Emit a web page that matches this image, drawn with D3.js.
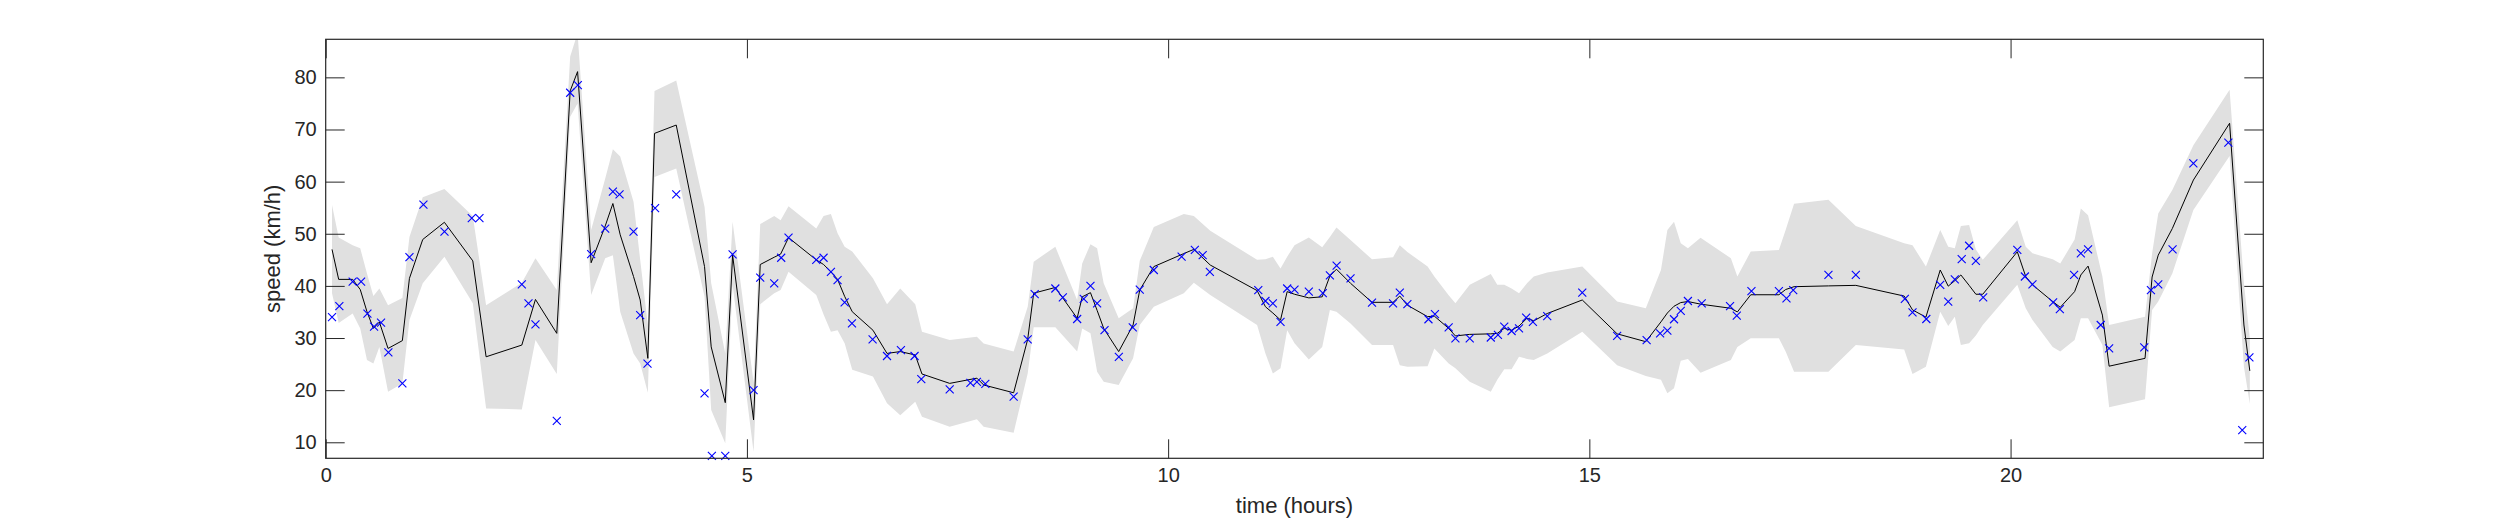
<!DOCTYPE html>
<html lang="en">
<head>
    <meta charset="UTF-8">
    <script src="https://d3js.org/d3.v7.min.js"></script>
    <title>speed over time</title>
    <style>
      body { margin: 0; background: #fff; }
      text { font-family: "Liberation Sans", Arial, Helvetica, sans-serif; fill: #262626; }
    </style>
</head>
<body>
<script>
    // predicted mean + band (same time grid)
    var tLine = [0.075, 0.154, 0.32, 0.41, 0.49, 0.566, 0.637, 0.74, 0.91, 0.994, 1.152, 1.409, 1.746, 1.904, 2.328, 2.49, 2.743, 2.902, 2.99, 3.151,
        3.318, 3.409, 3.496, 3.654, 3.733, 3.824, 3.903, 4.161, 4.497, 4.576, 4.743, 4.83, 5.079, 5.158, 5.324, 5.4, 5.494, 5.823, 5.91, 5.997,
        6.076, 6.16, 6.25, 6.496, 6.663, 6.82, 6.998, 7.078, 7.407, 7.73, 7.81, 8.166, 8.333, 8.404, 8.661, 8.92, 8.98, 9.078, 9.157, 9.235,
        9.413, 9.584, 9.663, 9.83, 10.186, 10.305, 10.5, 11.056, 11.155, 11.243, 11.334, 11.413, 11.5, 11.67, 11.829, 11.92, 11.998, 12.165, 12.42, 12.67,
        12.75, 12.84, 13.08, 13.16, 13.33, 13.41, 13.58, 13.83, 13.907, 13.99, 14.077, 14.165, 14.26, 14.34, 14.5, 14.916, 15.33, 15.67, 15.85, 15.926,
        16.005, 16.085, 16.17, 16.32, 16.68, 16.757, 16.916, 17.25, 17.33, 17.43, 17.838, 18.163, 18.737, 18.836, 18.995, 19.165, 19.26, 19.338, 19.41, 19.508,
        19.588, 19.67, 20.08, 20.18, 20.26, 20.5, 20.59, 20.76, 20.834, 20.92, 21.09, 21.17, 21.596, 21.68, 21.753, 21.92, 22.17, 22.6, 22.77, 22.84]
    var speedMean = [47.0, 41.25, 41.25, 39.3, 35.05, 31.85, 33.07, 28.0, 29.5, 41.45, 48.9, 52.2, 44.8, 26.4, 28.65, 37.4, 30.9, 77.4, 81.1, 44.45,
        51.5, 55.8, 49.8, 41.8, 37.3, 26.1, 69.25, 70.85, 43.7, 28.3, 17.6, 45.9, 14.3, 44.1, 45.5, 46.1, 49.25, 45.0, 44.1, 42.7,
        41.25, 38.0, 35.05, 31.5, 27.05, 27.4, 26.75, 23.1, 21.3, 22.3, 21.0, 19.5, 29.75, 38.6, 39.7, 33.8, 37.9, 38.7, 35.3, 31.85,
        27.4, 32.5, 39.2, 43.7, 46.2, 47.0, 44.0, 39.1, 36.0, 34.8, 33.45, 38.9, 38.4, 37.7, 37.9, 41.9, 43.2, 40.5, 36.85, 36.85,
        38.05, 36.3, 34.1, 34.2, 31.85, 30.4, 30.7, 30.8, 30.9, 31.85, 31.5, 32.3, 33.8, 33.3, 34.7, 37.3, 30.8, 29.3, 33.1, 34.8,
        36.1, 36.8, 37.0, 36.5, 35.7, 35.0, 38.3, 38.3, 39.3, 39.85, 40.0, 40.1, 38.05, 35.4, 34.0, 43.05, 39.95, 41.0, 42.1, 40.1,
        38.4, 38.4, 46.55, 41.8, 40.2, 37.0, 35.9, 38.9, 42.1, 43.8, 34.4, 24.6, 26.1, 41.7, 45.9, 51.0, 60.3, 71.2, 32.5, 23.7]
    var speedLo = [38.6, 32.9, 34.7, 31.85, 25.8, 25.1, 28.3, 19.7, 21.3, 33.45, 40.5, 45.6, 36.65, 16.5, 16.3, 29.6, 23.1, 72.45, 75.0, 38.25,
        45.3, 45.9, 35.05, 27.05, 25.1, 19.5, 60.9, 62.5, 37.9, 16.2, 9.8, 40.2, 8.2, 36.5, 38.6, 39.2, 42.7, 38.25, 34.5, 31.2,
        31.5, 29.0, 23.9, 22.6, 17.5, 15.2, 17.8, 14.9, 13.0, 14.4, 13.0, 11.85, 23.2, 32.05, 32.05, 27.4, 31.85, 30.9, 23.55, 21.6,
        21.0, 26.1, 32.5, 36.0, 38.6, 40.6, 38.25, 32.5, 27.05, 23.2, 24.2, 31.5, 29.0, 25.9, 28.3, 35.4, 35.05, 32.8, 28.65, 28.65,
        24.8, 24.5, 24.6, 28.0, 25.1, 24.2, 21.6, 19.7, 22.0, 24.0, 24.0, 26.4, 26.0, 25.8, 27.05, 31.2, 24.8, 22.7, 22.0, 19.4,
        20.35, 25.65, 26.0, 23.35, 25.8, 28.3, 29.95, 29.95, 27.4, 23.55, 23.55, 28.65, 27.8, 23.1, 24.5, 35.05, 32.3, 34.1, 28.65, 29.0,
        30.5, 32.5, 40.2, 35.7, 33.45, 28.3, 27.4, 29.6, 33.8, 33.8, 28.65, 16.7, 18.25, 35.4, 37.0, 42.4, 54.55, 64.9, 24.5, 17.35]
    var speedHi = [55.5, 49.3, 47.8, 47.2, 42.4, 38.05, 39.5, 36.3, 37.7, 49.4, 57.0, 58.6, 53.4, 36.3, 40.6, 45.3, 39.2, 84.0, 88.5, 50.7,
        60.6, 66.2, 64.8, 56.15, 45.0, 32.5, 77.4, 79.4, 55.2, 40.5, 27.05, 52.3, 21.5, 51.85, 53.4, 52.6, 55.3, 51.0, 53.4, 53.8,
        50.1, 47.5, 46.6, 41.45, 36.5, 39.5, 36.5, 31.2, 29.6, 30.25, 28.95, 27.4, 36.0, 44.65, 47.5, 37.3, 44.3, 48.0, 47.2, 40.5,
        33.8, 35.7, 44.8, 51.3, 53.8, 53.4, 50.6, 45.0, 45.1, 45.6, 43.35, 45.6, 47.8, 49.3, 47.4, 49.4, 51.2, 48.8, 45.1, 45.5,
        47.8, 46.5, 43.7, 41.8, 38.2, 36.65, 40.2, 42.3, 40.2, 40.2, 39.5, 38.6, 40.5, 41.8, 42.55, 43.7, 37.0, 35.7, 43.05, 50.7,
        52.3, 48.2, 47.2, 49.25, 45.3, 41.8, 46.6, 46.9, 50.7, 55.75, 56.5, 51.5, 48.2, 47.8, 43.7, 50.7, 47.5, 47.2, 51.5, 51.7,
        47.0, 45.0, 52.6, 47.5, 46.25, 45.1, 44.3, 48.9, 54.85, 53.55, 41.8, 32.5, 34.1, 46.2, 53.9, 58.4, 67.0, 77.6, 40.5, 29.9]

    // measured speeds
    var tObs = [0.075, 0.162, 0.32, 0.42, 0.495, 0.574, 0.657, 0.744, 0.91, 0.994, 1.16, 1.41, 1.734, 1.825, 2.328, 2.407, 2.49, 2.743, 2.902, 2.993,
        3.151, 3.318, 3.409, 3.488, 3.654, 3.733, 3.82, 3.91, 4.161, 4.497, 4.584, 4.743, 4.83, 5.079, 5.158, 5.324, 5.407, 5.494, 5.823, 5.91,
        5.997, 6.076, 6.16, 6.247, 6.492, 6.663, 6.828, 6.99, 7.07, 7.407, 7.653, 7.73, 7.83, 8.166, 8.333, 8.416, 8.661, 8.75, 8.92, 8.998,
        9.078, 9.157, 9.245, 9.415, 9.58, 9.663, 9.83, 10.16, 10.317, 10.41, 10.495, 11.07, 11.155, 11.243, 11.334, 11.413, 11.5, 11.67, 11.836, 11.92,
        12.0, 12.165, 12.42, 12.67, 12.75, 12.84, 13.09, 13.167, 13.33, 13.41, 13.58, 13.83, 13.915, 13.99, 14.077, 14.165, 14.25, 14.33, 14.5, 14.916,
        15.33, 15.68, 15.84, 15.926, 16.005, 16.085, 16.17, 16.334, 16.67, 16.75, 16.924, 17.25, 17.34, 17.42, 17.838, 18.163, 18.745, 18.836, 19.0, 19.165,
        19.26, 19.338, 19.42, 19.508, 19.588, 19.675, 20.08, 20.17, 20.26, 20.505, 20.585, 20.754, 20.834, 20.92, 21.07, 21.17, 21.587, 21.666, 21.753, 21.923,
        22.17, 22.585, 22.75, 22.835]
    var speedObs = [34.0, 36.1, 40.8, 40.8, 34.7, 32.2, 32.95, 27.25, 21.3, 45.5, 55.6, 50.4, 53.0, 53.0, 40.3, 36.65, 32.6, 14.1, 77.05, 78.5,
        46.1, 51.0, 58.1, 57.55, 50.4, 34.4, 25.1, 54.9, 57.55, 19.4, 7.4, 7.4, 46.05, 20.0, 41.6, 40.5, 45.4, 49.25, 45.0, 45.4,
        42.7, 41.1, 36.85, 32.8, 29.75, 26.55, 27.7, 26.55, 22.1, 20.15, 21.4, 21.6, 21.2, 18.75, 29.75, 38.4, 39.5, 37.8, 33.65, 37.5,
        40.0, 36.65, 31.5, 26.4, 32.05, 39.3, 43.05, 45.6, 46.9, 45.9, 42.7, 39.2, 37.1, 36.65, 33.1, 39.5, 39.3, 38.9, 38.6, 42.0,
        43.9, 41.45, 36.8, 36.65, 38.7, 36.5, 33.6, 34.6, 32.05, 29.95, 29.95, 30.1, 30.6, 32.2, 31.35, 31.85, 33.9, 33.1, 34.2, 38.7,
        30.4, 29.6, 30.9, 31.4, 33.6, 35.2, 37.1, 36.65, 36.1, 34.3, 39.0, 39.0, 37.6, 39.2, 42.1, 42.1, 37.5, 34.9, 33.65, 40.2,
        37.0, 41.25, 45.15, 47.7, 44.8, 37.8, 46.9, 41.8, 40.3, 36.85, 35.55, 42.1, 46.25, 47.0, 32.5, 28.0, 28.2, 39.2, 40.3, 47.0,
        63.5, 67.5, 12.35, 26.3]

    var xTicks = [0, 5, 10, 15, 20]
    var yTicks = [10, 20, 30, 40, 50, 60, 70, 80]

    var margin = { top: 39.3, right: 236.7, bottom: 62.7, left: 325.7 },
        width = 2500 - margin.left - margin.right,
        height = 521 - margin.top - margin.bottom;
    var tickLen = 19;
    var axisColor = "#262626";

    var svg = d3.select("body").append("svg")
        .attr("width", 2500)
        .attr("height", 521)
        .append("g")
        .attr("transform", "translate(" + margin.left + "," + margin.top + ")");

    var x = d3.scaleLinear().domain([0, 23]).range([0, width]);
    var y = d3.scaleLinear().domain([6.93, 87.3]).range([height, 0]);

    svg.append("clipPath").attr("id", "clip")
        .append("rect").attr("width", width).attr("height", height);

    var band = tLine.map(function (t, i) { return { t: t, m: speedMean[i], lo: speedLo[i], hi: speedHi[i] }; });

    // shaded band
    svg.append("path")
        .datum(band)
        .attr("clip-path", "url(#clip)")
        .attr("fill", "#e0e0e0")
        .attr("d", d3.area()
            .x(function (d) { return x(d.t); })
            .y0(function (d) { return y(d.lo); })
            .y1(function (d) { return y(d.hi); }));

    // mean line
    svg.append("path")
        .datum(band)
        .attr("clip-path", "url(#clip)")
        .attr("fill", "none")
        .attr("stroke", "#000")
        .attr("stroke-width", 1)
        .attr("d", d3.line()
            .x(function (d) { return x(d.t); })
            .y(function (d) { return y(d.m); }));

    // observations as crosses
    var r = 4;
    svg.append("g").selectAll("path")
        .data(tObs.map(function (t, i) { return [t, speedObs[i]]; }))
        .enter()
        .append("path")
        .attr("fill", "none")
        .attr("stroke", "#0000ff")
        .attr("stroke-width", 1.1)
        .attr("d", function (d) {
            var cx = x(d[0]), cy = y(d[1]);
            return "M" + (cx - r) + "," + (cy - r) + "L" + (cx + r) + "," + (cy + r) +
                "M" + (cx - r) + "," + (cy + r) + "L" + (cx + r) + "," + (cy - r);
        });

    // axes, ticks pointing inward, mirrored on top/right
    var xb = svg.append("g")
        .attr("transform", "translate(0," + height + ")")
        .call(d3.axisBottom(x).tickValues(xTicks).tickSizeInner(-tickLen).tickSizeOuter(0).tickPadding(10));
    var xt = svg.append("g")
        .call(d3.axisTop(x).tickValues(xTicks).tickSizeInner(-tickLen).tickSizeOuter(0).tickFormat(""));
    var yl = svg.append("g")
        .call(d3.axisLeft(y).tickValues(yTicks).tickSizeInner(-tickLen).tickSizeOuter(0).tickPadding(9));
    var yr = svg.append("g")
        .attr("transform", "translate(" + width + ",0)")
        .call(d3.axisRight(y).tickValues(yTicks).tickSizeInner(-tickLen).tickSizeOuter(0).tickFormat(""));

    [xb, xt, yl, yr].forEach(function (g) {
        g.select(".domain").remove();
        g.selectAll("line").attr("stroke", axisColor).attr("stroke-width", 1);
        g.selectAll("text").attr("font-size", 20).attr("fill", axisColor)
            .style("font-family", "'Liberation Sans', Arial, sans-serif");
    });
    xb.selectAll("text").attr("dy", "0.71em");

    svg.append("rect")
        .attr("width", width).attr("height", height)
        .attr("fill", "none").attr("stroke", axisColor).attr("stroke-width", 1.2);

    svg.append("text")
        .attr("x", width / 2)
        .attr("y", height + 55)
        .attr("text-anchor", "middle")
        .attr("font-size", 22)
        .text("time (hours)");

    svg.append("text")
        .attr("transform", "translate(" + (-46) + "," + (height / 2) + ") rotate(-90)")
        .attr("text-anchor", "middle")
        .attr("font-size", 22)
        .text("speed (km/h)");
</script>
</body>
</html>
